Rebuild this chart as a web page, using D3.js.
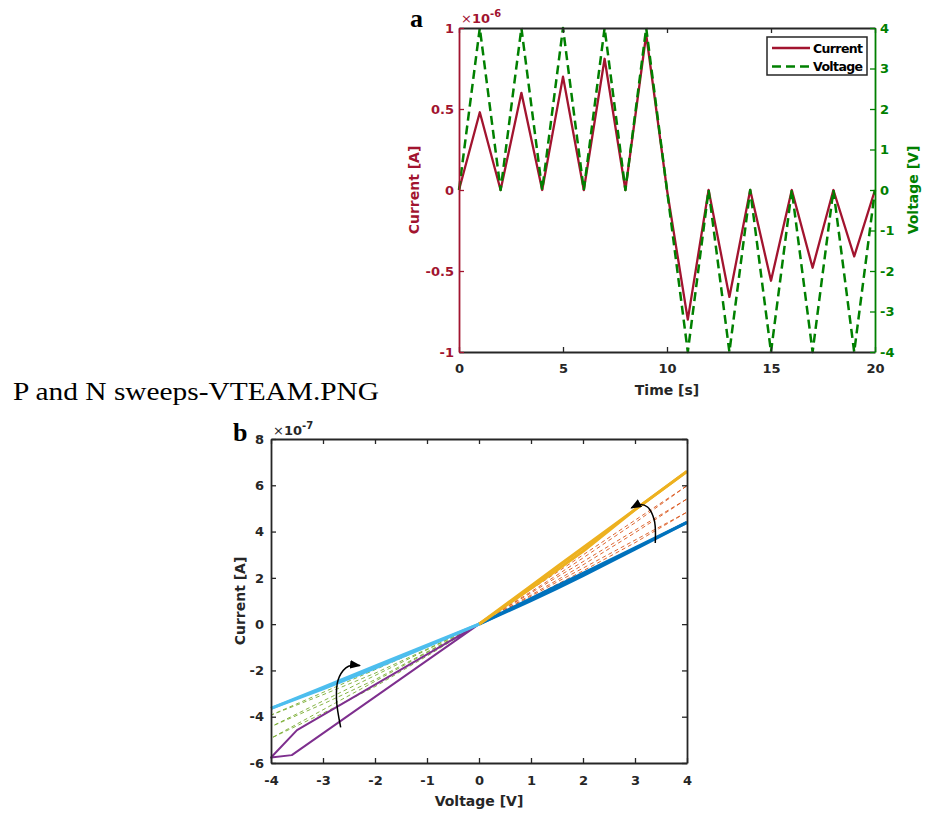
<!DOCTYPE html>
<html>
<head>
<meta charset="utf-8">
<script src="https://cdn.jsdelivr.net/npm/d3@7"></script>
<style>
  body { margin: 0; background: #fff; }
</style>
</head>
<body>
<svg id="fig" width="930" height="813" font-family="DejaVu Sans, Arial, sans-serif"></svg>
<script>
// ---------- panel a : current and voltage against time ----------
const timeS    = [0, 1, 2, 3, 4, 5, 6, 7, 8, 9, 10, 11, 12, 13, 14, 15, 16, 17, 18, 19, 20];
// current in units of 1e-6 A
const currentA = [0, 0.48, 0, 0.6, 0, 0.7, 0, 0.81, 0, 0.96, 0, -0.8, 0, -0.66, 0, -0.56, 0, -0.48, 0, -0.41, 0];
const voltageV = [0, 4, 0, 4, 0, 4, 0, 4, 0, 4, 0, -4, 0, -4, 0, -4, 0, -4, 0, -4, 0];
const timeTicks = [0, 5, 10, 15, 20];
const curTicks  = [-1, -0.5, 0, 0.5, 1];
const voltTicks = [-4, -3, -2, -1, 0, 1, 2, 3, 4];

// ---------- panel b : I-V sweeps (current in units of 1e-7 A) ----------
const posVolt = [0, 1, 1.5, 2, 3, 4];
const negVolt = [0, -1, -2, -3, -4];
// positive sweeps: first (blue), three intermediate (dashed), last (orange)
const posUp = [
  [0, 1.02, 1.55, 2.1, 3.24, 4.4],
  [0, 1.14, 1.72, 2.3, 3.52, 4.84],
  [0, 1.26, 1.9, 2.56, 3.95, 5.41],
  [0, 1.4, 2.12, 2.86, 4.38, 5.98],
  [0, 1.55, 2.34, 3.15, 4.95, 6.6]
];
const posDown = [
  [0, 1.1, 1.65, 2.2, 3.3, 4.4],
  [0, 1.21, 1.82, 2.42, 3.63, 4.84],
  [0, 1.35, 2.03, 2.7, 4.06, 5.41],
  [0, 1.5, 2.24, 2.99, 4.49, 5.98],
  [0, 1.65, 2.48, 3.3, 4.95, 6.6]
];
// negative sweeps: three intermediate (dashed), last (light blue)
const negUp = [
  [0, -1.38, -2.7, -3.85, -4.93],
  [0, -1.2, -2.4, -3.45, -4.43],
  [0, -1.08, -2.12, -3.05, -3.93],
  [0, -0.96, -1.9, -2.8, -3.64]
];
const negDown = [
  [0, -1.23, -2.47, -3.7, -4.93],
  [0, -1.11, -2.22, -3.32, -4.43],
  [0, -0.98, -1.97, -2.95, -3.93],
  [0, -0.91, -1.82, -2.73, -3.64]
];
// first negative sweep (purple)
const firstNegV = [0, -3.5, -4, -3.6, 0];
const firstNegI = [0, -4.58, -5.76, -5.66, 0];
// curved arrows (data units)
const arrowPos = [[3.39, 3.51], [3.37, 4.5], [3.24, 5.06], [3.1, 5.17], [2.93, 5.02]];
const arrowNeg = [[-2.66, -4.46], [-2.74, -3.27], [-2.71, -2.41], [-2.56, -1.89], [-2.44, -1.78], [-2.29, -1.79]];
const ivXTicks = [-4, -3, -2, -1, 0, 1, 2, 3, 4];
const ivYTicks = [-6, -4, -2, 0, 2, 4, 6, 8];

const ink = "#262626";
const crimson = "#A2142F";
const green = "#008000";
const fontSans = "DejaVu Sans, Arial, sans-serif";
const fontSerif = "Liberation Serif, Times New Roman, serif";

const svg = d3.select("#fig");
svg.append("rect").attr("width", 930).attr("height", 813).attr("fill", "#fff");

function styleAxis(g, color, hideText) {
  g.attr("font-family", fontSans).attr("font-size", 13).attr("font-weight", "bold");
  g.select(".domain").attr("stroke", color).attr("stroke-width", 1.8);
  g.selectAll(".tick line").attr("stroke", color).attr("stroke-width", 1.3);
  g.selectAll(".tick text").attr("fill", color);
  if (hideText) g.selectAll(".tick text").remove();
}
const fmt = d => String(d);

// ======== panel a ========
const xa = d3.scaleLinear().domain([0, 20]).range([459, 875]);
const ya = d3.scaleLinear().domain([-1, 1]).range([352, 28]);
const yv = d3.scaleLinear().domain([-4, 4]).range([352, 28]);

const lineCur = d3.line().x((d, i) => xa(timeS[i])).y(d => ya(d));
const lineVolt = d3.line().x((d, i) => xa(timeS[i])).y(d => yv(d));

svg.append("path").attr("d", lineCur(currentA))
  .attr("fill", "none").attr("stroke", crimson).attr("stroke-width", 2.3)
  .attr("stroke-linejoin", "round");
svg.append("path").attr("d", lineVolt(voltageV))
  .attr("fill", "none").attr("stroke", green).attr("stroke-width", 2.5)
  .attr("stroke-dasharray", "9,5").attr("stroke-linejoin", "round");

svg.append("g").attr("transform", "translate(0,28)")
  .call(d3.axisTop(xa).tickValues(timeTicks).tickSize(-5).tickSizeOuter(0))
  .call(g => styleAxis(g, ink, true));
svg.append("g").attr("transform", "translate(0,352)")
  .call(d3.axisBottom(xa).tickValues(timeTicks).tickSize(-5).tickSizeOuter(0).tickPadding(12).tickFormat(fmt))
  .call(g => styleAxis(g, ink));
svg.append("g").attr("transform", "translate(459,0)")
  .call(d3.axisLeft(ya).tickValues(curTicks).tickSize(-5).tickSizeOuter(0).tickPadding(5).tickFormat(fmt))
  .call(g => styleAxis(g, crimson));
svg.append("g").attr("transform", "translate(875,0)")
  .call(d3.axisRight(yv).tickValues(voltTicks).tickSize(-5).tickSizeOuter(0).tickPadding(5).tickFormat(fmt))
  .call(g => styleAxis(g, green));

// labels
svg.append("text").attr("transform", "translate(419,190) rotate(-90)")
  .attr("text-anchor", "middle").attr("font-size", 14).attr("font-weight", "bold")
  .attr("fill", crimson).text("Current [A]");
svg.append("text").attr("transform", "translate(918,190) rotate(-90)")
  .attr("text-anchor", "middle").attr("font-size", 14).attr("font-weight", "bold")
  .attr("fill", green).text("Voltage [V]");
svg.append("text").attr("x", 667).attr("y", 395)
  .attr("text-anchor", "middle").attr("font-size", 14).attr("font-weight", "bold")
  .attr("fill", ink).text("Time [s]");

const expA = svg.append("text").attr("x", 461).attr("y", 23).attr("font-size", 13).attr("fill", crimson);
expA.append("tspan").text("\u00d7");
expA.append("tspan").attr("font-weight", "bold").text("10");
expA.append("tspan").attr("font-weight", "bold").attr("font-size", 10).attr("dy", -6).text("-6");

svg.append("text").attr("x", 410).attr("y", 27)
  .attr("font-family", fontSerif)
  .attr("font-size", 26).attr("font-weight", "bold").attr("fill", "#000").text("a");

// legend
const leg = svg.append("g");
leg.append("rect").attr("x", 767).attr("y", 37).attr("width", 100).attr("height", 38)
  .attr("fill", "#fff").attr("stroke", ink).attr("stroke-width", 1.5);
leg.append("line").attr("x1", 772).attr("x2", 810).attr("y1", 48).attr("y2", 48)
  .attr("stroke", crimson).attr("stroke-width", 2.3);
leg.append("line").attr("x1", 772).attr("x2", 810).attr("y1", 66.5).attr("y2", 66.5)
  .attr("stroke", green).attr("stroke-width", 2.5).attr("stroke-dasharray", "9,5");
leg.append("text").attr("x", 813).attr("y", 52.5).attr("font-size", 12.5).attr("font-weight", "bold")
  .attr("fill", "#000").attr("textLength", 50).text("Current");
leg.append("text").attr("x", 813).attr("y", 71).attr("font-size", 12.5).attr("font-weight", "bold")
  .attr("fill", "#000").attr("textLength", 50).text("Voltage");

// caption between panels
svg.append("text").attr("x", 13).attr("y", 400)
  .attr("font-family", fontSerif)
  .attr("font-size", 26).attr("fill", "#000")
  .attr("textLength", 366).attr("lengthAdjust", "spacingAndGlyphs")
  .text("P and N sweeps-VTEAM.PNG");

// ======== panel b ========
const xb = d3.scaleLinear().domain([-4, 4]).range([271, 687]);
const yb = d3.scaleLinear().domain([-6, 8]).range([763, 439]);

const ivLine = d3.line().x(d => xb(d[0])).y(d => yb(d[1]));
const zipIV = (vs, is) => vs.map((v, i) => [v, is[i]]);

const posStyle = [
  { c: "#0072BD", w: 3 },
  { c: "#D95319", w: 0.9, dash: "4,3" },
  { c: "#D95319", w: 0.9, dash: "4,3" },
  { c: "#D95319", w: 0.9, dash: "4,3" },
  { c: "#EDB120", w: 3 }
];
const negStyle = [
  { c: "#77AC30", w: 0.9, dash: "4,3" },
  { c: "#77AC30", w: 0.9, dash: "4,3" },
  { c: "#77AC30", w: 0.9, dash: "4,3" },
  { c: "#4DBEEE", w: 3 }
];

const plotB = svg.append("g");
function drawSweep(volts, up, down, st) {
  [up, down].forEach(cur => {
    plotB.append("path").attr("d", ivLine(zipIV(volts, cur)))
      .attr("fill", "none").attr("stroke", st.c).attr("stroke-width", st.w)
      .attr("stroke-dasharray", st.dash || null).attr("stroke-linejoin", "round");
  });
}
// dashed ones underneath
posUp.forEach((u, i) => { if (posStyle[i].dash) drawSweep(posVolt, u, posDown[i], posStyle[i]); });
negUp.forEach((u, i) => { if (negStyle[i].dash) drawSweep(negVolt, u, negDown[i], negStyle[i]); });
plotB.append("path").attr("d", ivLine(zipIV(firstNegV, firstNegI)))
  .attr("fill", "none").attr("stroke", "#7E2F8E").attr("stroke-width", 2)
  .attr("stroke-linejoin", "round");
posUp.forEach((u, i) => { if (!posStyle[i].dash) drawSweep(posVolt, u, posDown[i], posStyle[i]); });
negUp.forEach((u, i) => { if (!negStyle[i].dash) drawSweep(negVolt, u, negDown[i], negStyle[i]); });

// arrows
svg.append("defs").append("marker").attr("id", "head")
  .attr("viewBox", "0 0 10 8").attr("refX", 9).attr("refY", 4)
  .attr("markerWidth", 11).attr("markerHeight", 9)
  .attr("markerUnits", "userSpaceOnUse").attr("orient", "auto")
  .append("path").attr("d", "M0,0 L10,4 L0,8 Z").attr("fill", "#000");
const arrowLine = d3.line().x(d => xb(d[0])).y(d => yb(d[1])).curve(d3.curveCatmullRom);
[arrowPos, arrowNeg].forEach(pts => {
  svg.append("path").attr("d", arrowLine(pts)).attr("fill", "none")
    .attr("stroke", "#000").attr("stroke-width", 1.5).attr("marker-end", "url(#head)");
});

svg.append("g").attr("transform", "translate(0,439)")
  .call(d3.axisTop(xb).tickValues(ivXTicks).tickSize(-5).tickSizeOuter(0))
  .call(g => styleAxis(g, ink, true));
svg.append("g").attr("transform", "translate(0,763)")
  .call(d3.axisBottom(xb).tickValues(ivXTicks).tickSize(-5).tickSizeOuter(0).tickPadding(13).tickFormat(fmt))
  .call(g => styleAxis(g, ink));
svg.append("g").attr("transform", "translate(271,0)")
  .call(d3.axisLeft(yb).tickValues(ivYTicks).tickSize(-5).tickSizeOuter(0).tickPadding(7).tickFormat(fmt))
  .call(g => styleAxis(g, ink));
svg.append("g").attr("transform", "translate(687,0)")
  .call(d3.axisRight(yb).tickValues(ivYTicks).tickSize(-5).tickSizeOuter(0))
  .call(g => styleAxis(g, ink, true));

svg.append("text").attr("transform", "translate(245,601) rotate(-90)")
  .attr("text-anchor", "middle").attr("font-size", 14).attr("font-weight", "bold")
  .attr("fill", ink).text("Current [A]");
svg.append("text").attr("x", 479).attr("y", 806)
  .attr("text-anchor", "middle").attr("font-size", 14).attr("font-weight", "bold")
  .attr("fill", ink).text("Voltage [V]");

const expB = svg.append("text").attr("x", 273).attr("y", 435).attr("font-size", 13).attr("fill", ink);
expB.append("tspan").text("\u00d7");
expB.append("tspan").attr("font-weight", "bold").text("10");
expB.append("tspan").attr("font-weight", "bold").attr("font-size", 10).attr("dy", -6).text("-7");

svg.append("text").attr("x", 233).attr("y", 441)
  .attr("font-family", fontSerif)
  .attr("font-size", 26).attr("font-weight", "bold").attr("fill", "#000").text("b");
</script>
</body>
</html>
